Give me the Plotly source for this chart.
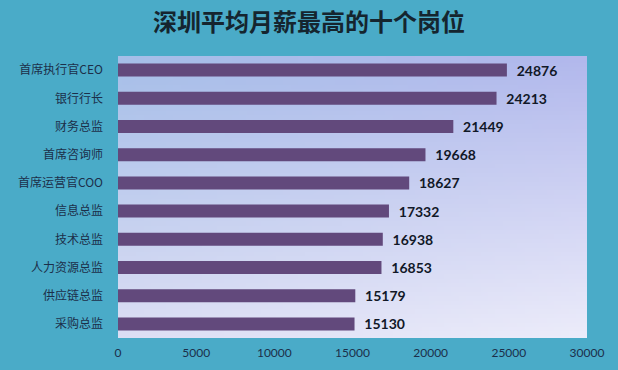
import plotly.graph_objects as go
import zlib, struct, base64

categories = ["首席执行官CEO", "银行行长", "财务总监", "首席咨询师", "首席运营官COO",
              "信息总监", "技术总监", "人力资源总监", "供应链总监", "采购总监"]
salaries = [24876, 24213, 21449, 19668, 18627, 17332, 16938, 16853, 15179, 15130]
x_ticks = [0, 5000, 10000, 15000, 20000, 25000, 30000]
title_text = "深圳平均月薪最高的十个岗位"

# gradient background image for the plot area
def make_png(w, h, c_tl, c_tr, c_bl, c_br):
    raw = b""
    for j in range(h):
        fy = j / (h - 1)
        row = b"\x00"
        for i in range(w):
            fx = i / (w - 1)
            px = []
            for k in range(3):
                top = c_tl[k] * (1 - fx) + c_tr[k] * fx
                bot = c_bl[k] * (1 - fx) + c_br[k] * fx
                px.append(int(round(top * (1 - fy) + bot * fy)))
            row += bytes(px)
        raw += row
    def chunk(t, d):
        c = struct.pack(">I", len(d)) + t + d
        return c + struct.pack(">I", zlib.crc32(t + d) & 0xffffffff)
    png = b"\x89PNG\r\n\x1a\n"
    png += chunk(b"IHDR", struct.pack(">IIBBBBB", w, h, 8, 2, 0, 0, 0))
    png += chunk(b"IDAT", zlib.compress(raw))
    png += chunk(b"IEND", b"")
    return "data:image/png;base64," + base64.b64encode(png).decode()

bg = make_png(64, 64, (166, 190, 232), (178, 184, 236), (220, 222, 244), (236, 236, 250))

fig = go.Figure()
fig.add_trace(go.Bar(
    x=salaries, y=categories, orientation="h",
    marker=dict(color="#62497c", line=dict(width=0)),
    width=0.46,
    text=[f"  {v}" for v in salaries], textposition="outside",
    constraintext="none",
    textfont=dict(family="Lato, Noto Sans", size=14, color="#111827", weight="bold"),
    cliponaxis=False,
    hoverinfo="skip",
))

fig.update_layout(
    width=618, height=370,
    paper_bgcolor="#4aabc8",
    plot_bgcolor="rgba(0,0,0,0)",
    margin=dict(l=118, r=31, t=56, b=32, autoexpand=False),
    showlegend=False,
    title=dict(text=title_text, x=0.5, xanchor="center", y=0.94, yanchor="middle",
               font=dict(family="Noto Sans CJK SC", size=24, color="#15252f", weight="bold")),
    xaxis=dict(range=[0, 30000], tickvals=x_ticks, ticktext=[str(v) for v in x_ticks],
               showgrid=False, zeroline=False, automargin=False,
               showline=False, ticks="", ticklabelstandoff=6,
               tickfont=dict(family="Lato, Noto Sans", size=12, color="#1c2f4a")),
    yaxis=dict(autorange="reversed", showgrid=False, zeroline=False, showline=False,
               ticks="", ticklabelstandoff=14, automargin=False,
               tickfont=dict(family="Noto Sans CJK SC", size=12, color="#1c2f4a")),
    bargap=0.54,
    images=[dict(source=bg, xref="paper", yref="paper", x=0, y=1, sizex=1, sizey=1,
                 sizing="stretch", layer="below", xanchor="left", yanchor="top")],
)

fig.write_html("out.html", config={"displayModeBar": False},
               post_script="document.body.style.margin='0';document.body.style.padding='0';")
